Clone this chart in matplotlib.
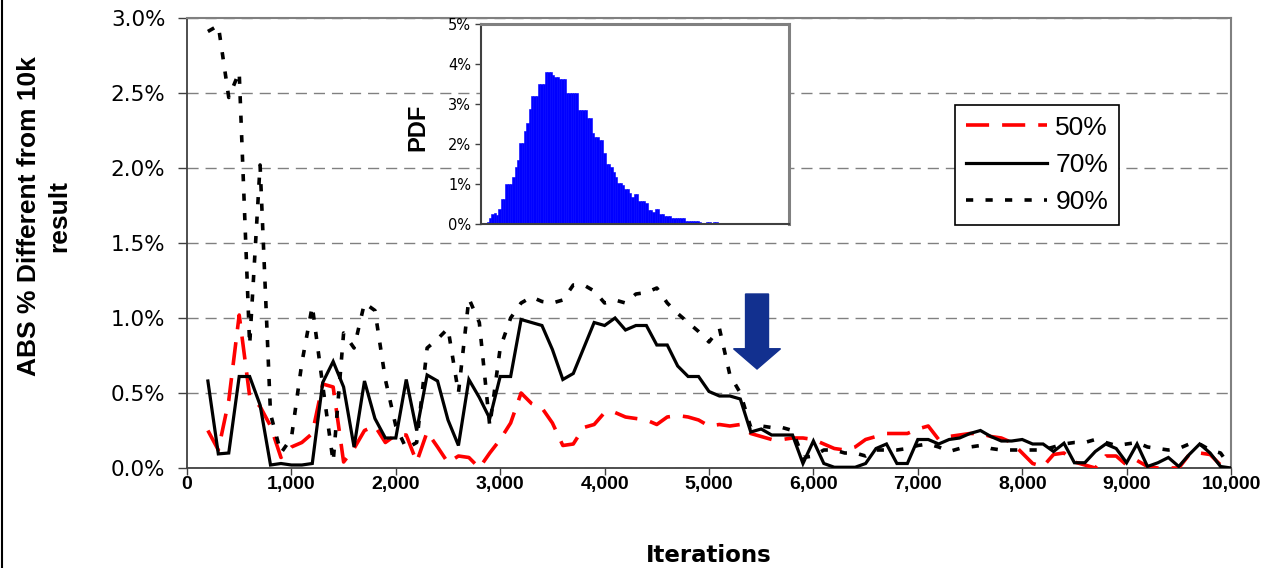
import matplotlib
matplotlib.use('Agg')
import matplotlib.pyplot as plt
from matplotlib.patches import FancyArrow
from matplotlib.lines import Line2D
from matplotlib.ticker import FuncFormatter, FixedLocator

# ---------------- data ----------------
iterations = list(range(200, 10001, 100))

p50 = [0.25, 0.12, 0.45, 1.02, 0.48, 0.41, 0.28, 0.07, 0.14, 0.17,
       0.23, 0.56, 0.54, 0.04, 0.13, 0.25, 0.28, 0.17, 0.22, 0.22,
       0.04, 0.24, 0.14, 0.035, 0.08, 0.07, 0.0, 0.10, 0.19, 0.30,
       0.50, 0.43, 0.40, 0.30, 0.15, 0.16, 0.27, 0.29, 0.37, 0.37,
       0.34, 0.33, 0.32, 0.29, 0.34, 0.35, 0.34, 0.32, 0.28, 0.29,
       0.28, 0.29, 0.23, 0.21, 0.19, 0.19, 0.20, 0.20, 0.19, 0.16,
       0.13, 0.12, 0.14, 0.19, 0.21, 0.23, 0.23, 0.23, 0.26, 0.28,
       0.19, 0.21, 0.22, 0.23, 0.23, 0.21, 0.20, 0.17, 0.10, 0.03,
       0.01, 0.09, 0.10, 0.04, 0.02, 0.0, 0.08, 0.08, 0.02, 0.05,
       0.01, 0.0, 0.0, 0.0, 0.09, 0.10, 0.09, 0.02, 0.0]

p70 = [0.58, 0.094, 0.10, 0.61, 0.61, 0.42, 0.02, 0.03, 0.02, 0.02,
       0.03, 0.57, 0.71, 0.54, 0.14, 0.58, 0.33, 0.20, 0.20, 0.59,
       0.25, 0.62, 0.58, 0.32, 0.15, 0.59, 0.47, 0.33, 0.61, 0.61,
       0.99, 0.97, 0.95, 0.79, 0.59, 0.63, 0.80, 0.97, 0.95, 1.00,
       0.92, 0.95, 0.95, 0.82, 0.82, 0.68, 0.61, 0.61, 0.51, 0.48,
       0.48, 0.46, 0.24, 0.26, 0.22, 0.22, 0.22, 0.03, 0.18, 0.03,
       0.005, 0.005, 0.005, 0.03, 0.13, 0.16, 0.03, 0.03, 0.19, 0.19,
       0.16, 0.19, 0.20, 0.23, 0.25, 0.21, 0.18, 0.18, 0.19, 0.16,
       0.16, 0.11, 0.165, 0.035, 0.035, 0.11, 0.16, 0.13, 0.035, 0.16,
       0.01, 0.035, 0.07, 0.01, 0.09, 0.16, 0.10, 0.01, 0.0]

p90 = [2.91, 2.95, 2.47, 2.64, 0.82, 2.02, 0.36, 0.10, 0.20, 0.70,
       1.08, 0.55, 0.04, 0.90, 0.80, 1.10, 1.05, 0.59, 0.28, 0.13,
       0.17, 0.80, 0.86, 0.93, 0.50, 1.13, 0.97, 0.28, 0.80, 1.00,
       1.10, 1.14, 1.11, 1.10, 1.12, 1.22, 1.22, 1.18, 1.10, 1.12,
       1.10, 1.16, 1.17, 1.20, 1.10, 1.03, 0.97, 0.91, 0.84, 0.93,
       0.62, 0.50, 0.27, 0.28, 0.27, 0.27, 0.25, 0.07, 0.08, 0.12,
       0.12, 0.10, 0.10, 0.08, 0.12, 0.12, 0.12, 0.13, 0.15, 0.16,
       0.14, 0.11, 0.13, 0.14, 0.15, 0.13, 0.12, 0.12, 0.12, 0.12,
       0.12, 0.14, 0.16, 0.17, 0.17, 0.19, 0.17, 0.15, 0.16, 0.17,
       0.14, 0.13, 0.12, 0.13, 0.16, 0.16, 0.12, 0.10, 0.0]

series_labels = ['50%', '70%', '90%']

pdf_heights = [0.06, 0.14, 0.25, 0.27, 0.22, 0.37, 0.62, 0.62, 1.0, 1.0,
               1.0, 1.18, 1.42, 1.6, 2.03, 2.03, 2.33, 2.52, 2.88, 3.2,
               3.2, 3.2, 3.5, 3.5, 3.5, 3.81, 3.81, 3.81, 3.72, 3.68,
               3.68, 3.62, 3.62, 3.62, 3.27, 3.27, 3.27, 3.27, 3.27, 2.85,
               2.85, 2.85, 2.85, 2.64, 2.64, 2.28, 2.17, 2.17, 2.1, 2.1,
               1.77, 1.5, 1.5, 1.43, 1.31, 1.18, 1.02, 1.02, 0.97, 0.87,
               0.87, 0.77, 0.68, 0.74, 0.74, 0.58, 0.58, 0.58, 0.52, 0.35,
               0.35, 0.31, 0.37, 0.37, 0.25, 0.25, 0.21, 0.2, 0.2, 0.14,
               0.14, 0.14, 0.14, 0.14, 0.14, 0.08, 0.08, 0.08, 0.08, 0.08,
               0.08, 0.06, 0, 0, 0.06, 0.06, 0, 0.06, 0.06]
pdf_bins = list(range(len(pdf_heights)))

y_ticks = [0.0, 0.5, 1.0, 1.5, 2.0, 2.5, 3.0]
x_ticks = [0, 1000, 2000, 3000, 4000, 5000, 6000, 7000, 8000, 9000, 10000]
pdf_ticks = [0, 1, 2, 3, 4, 5]

# arrow annotation (data coords)
arrow_x = 5460
arrow_top = 1.16
arrow_tip = 0.66

# ---------------- figure ----------------
W, H = 1268, 568
fig = plt.figure(figsize=(W / 100, H / 100), dpi=100)
fig.patch.set_facecolor('white')

ax = fig.add_axes([187 / W, 100 / H, 1044 / W, 450 / H])
ax.set_xlim(0, 10000)
ax.set_ylim(0, 3.0)

ax.yaxis.grid(True, color='#808080', lw=1.0, linestyle=(0, (8, 5)))
ax.set_axisbelow(True)

ax.plot(iterations, p50, color='#FF0000', lw=2.6, dashes=(6.4, 3.6),
        dash_capstyle='butt', label=series_labels[0], zorder=3)
ax.plot(iterations, p70, color='black', lw=2.3, label=series_labels[1],
        zorder=4, solid_joinstyle='miter')
ax.plot(iterations, p90, color='black', lw=2.6, dashes=(2.0, 3.4),
        dash_capstyle='butt', label=series_labels[2], zorder=5)

ax.add_patch(FancyArrow(arrow_x, arrow_top, 0, arrow_tip - arrow_top,
                        width=220, head_width=450, head_length=0.135,
                        length_includes_head=True, color='#12308F',
                        zorder=6))

ax.yaxis.set_major_locator(FixedLocator(y_ticks))
ax.yaxis.set_major_formatter(FuncFormatter(lambda v, p: f'{v:.1f}%'))
ax.xaxis.set_major_locator(FixedLocator(x_ticks))
ax.xaxis.set_major_formatter(FuncFormatter(lambda v, p: f'{int(v):,}'))

for s in ['left', 'bottom']:
    ax.spines[s].set_color('#404040')
    ax.spines[s].set_linewidth(1.3)
for s in ['top', 'right']:
    ax.spines[s].set_color('#808080')
    ax.spines[s].set_linewidth(1.5)

ax.tick_params(axis='y', direction='out', length=6.5, width=1.0,
               color='#404040', pad=9, labelsize=15.5)
ax.tick_params(axis='x', direction='out', length=5, width=1.0,
               color='#404040', pad=1)
for lab in ax.get_xticklabels():
    lab.set_fontfamily('Liberation Sans')
    lab.set_fontweight('bold')
    lab.set_fontsize(14)

leg = ax.legend(loc='upper left', bbox_to_anchor=(955 / W, 1 - 105 / H),
                bbox_transform=fig.transFigure, borderaxespad=0,
                frameon=True, fancybox=False, framealpha=1,
                edgecolor='black', handlelength=3.1, handletextpad=0.3,
                labelspacing=0.5, borderpad=0.4,
                prop={'family': 'Liberation Sans', 'size': 19})
leg.get_frame().set_linewidth(1.2)

# axis titles
fig.text(709 / W, 1 - 562 / H, 'Iterations', ha='center', va='baseline',
         fontsize=16.5, fontweight='bold', family='DejaVu Sans')
fig.text(44 / W, 1 - 216 / H, 'ABS % Different from 10k\nresult',
         rotation=90, ha='center', va='center', multialignment='center',
         fontsize=19, fontweight='bold', family='Liberation Sans',
         linespacing=1.35)

# ---------------- inset ----------------
ins = fig.add_axes([481 / W, 1 - 224 / H, 308 / W, 200 / H])
ins.set_zorder(10)
ins.set_facecolor('white')
ins.bar([b + 2.4 for b in pdf_bins], pdf_heights, width=1.0, align='edge',
        color='#0000FF', edgecolor='#0000FF', linewidth=0.4)
ins.set_xlim(0, 132)
ins.set_ylim(0, 5)
ins.set_xticks([])
ins.yaxis.set_major_locator(FixedLocator(pdf_ticks))
ins.yaxis.set_major_formatter(FuncFormatter(lambda v, p: f'{int(v)}%'))
ins.tick_params(axis='y', direction='out', length=4, width=1.0,
                color='#404040', pad=3, labelsize=10.5)
for s in ['left', 'bottom']:
    ins.spines[s].set_color('#404040')
    ins.spines[s].set_linewidth(1.5)
for s in ['top', 'right']:
    ins.spines[s].set_color('#808080')
    ins.spines[s].set_linewidth(2.2)
fig.text(418 / W, 1 - 127 / H, 'PDF', rotation=90, ha='center', va='center',
         fontsize=17, fontweight='bold', family='Liberation Sans')

# left border of the chart area
fig.add_artist(Line2D([1.5 / W, 1.5 / W], [0, 1], color='black', lw=1.5,
                      transform=fig.transFigure))

fig.savefig('out.png', dpi=100)
